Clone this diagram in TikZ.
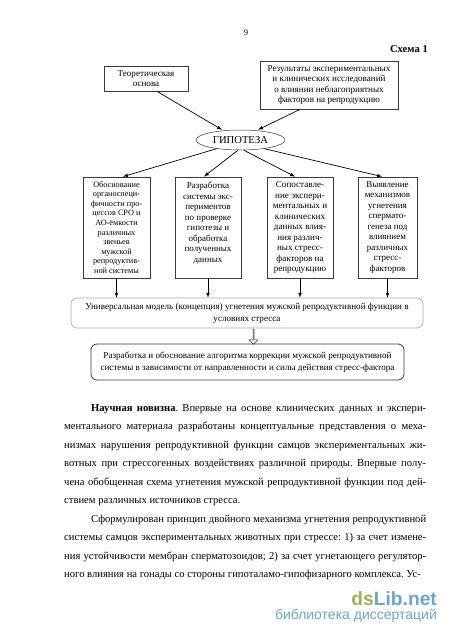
\documentclass[tikz,border=0pt]{standalone}
\usepackage{fontspec}
\setmainfont{Liberation Serif}
\newfontfamily\logofont{Liberation Sans}
\usetikzlibrary{shapes.geometric,shapes.arrows}
\definecolor{boxline}{HTML}{3A3A3A}
\definecolor{modelline}{HTML}{A8A8A8}
\definecolor{logogreen}{HTML}{A3AE5A}
\definecolor{logoblue}{HTML}{6FA3C8}
\tikzset{
  topbox/.style={draw=boxline,line width=0.8pt,inner sep=0,align=center,font=\fontsize{9.1}{10.6}\selectfont},
  colbox/.style={draw=boxline,line width=0.8pt,inner sep=0,align=center,minimum height=101pt},
  roundbox/.style={rounded corners=6pt,inner sep=0,align=center,font=\fontsize{9.1}{12.2}\selectfont},
  bodytext/.style={inner sep=0,anchor=north west,text width=362pt,align=justify,font=\fontsize{10.6}{18.55}\selectfont\frenchspacing},
  link/.style={draw=black,line width=0.7pt,-latex},
}
\begin{document}
\begin{tikzpicture}[x=1pt,y=-1pt]
\useasboundingbox (0,0) rectangle (450,636);
% Page head
\node[inner sep=0,font=\fontsize{8.6}{10}\selectfont] (pagenum) at (246,33) {9};
\node[inner sep=0,anchor=east,font=\fontsize{10.6}{12}\selectfont\bfseries] (schemehead) at (428,49) {Схема 1};
% Top boxes
\node[topbox,minimum width=84pt,minimum height=25pt] (theory) at (146,78.5) {Теоретическая\\основа};
\node[topbox,minimum width=138pt,minimum height=48pt] (results) at (329,85) {Результаты экспериментальных\\и клинических исследований\\о влиянии неблагоприятных\\факторов на репродукцию};
% Hypothesis
\node[ellipse,draw=boxline,line width=0.5pt,inner sep=0,minimum width=89pt,minimum height=20pt,font=\fontsize{10.6}{12}\selectfont] (hyp) at (240.5,140) {ГИПОТЕЗА};
% Columns
\node[colbox,minimum width=67pt,font=\fontsize{8.2}{9.6}\selectfont] (col1) at (116.5,227.5) {Обоснование\\органоспеци-\\фичности про-\\цессов СРО и\\АО-ёмкости\\различных\\звеньев\\мужской\\репродуктив-\\ной системы};
\node[colbox,minimum width=66pt,font=\fontsize{9}{10.5}\selectfont] (col2) at (208,227.5) {Разработка\\системы экс-\\периментов\\по проверке\\гипотезы и\\обработка\\полученных\\данных\\\mbox{}};
\node[colbox,minimum width=66pt,font=\fontsize{9.1}{10.5}\selectfont] (col3) at (300,227.5) {Сопоставле-\\ние экспери-\\ментальных и\\клинических\\данных влия-\\ния различ-\\ных стресс-\\факторов на\\репродукцию};
\node[colbox,minimum width=59pt,font=\fontsize{9}{10.5}\selectfont] (col4) at (387.5,227.5) {Выявление\\механизмов\\угнетения\\спермато-\\генеза под\\влиянием\\различных\\стресс-\\факторов};
% Model and algorithm
\node[roundbox,draw=modelline,line width=0.6pt,minimum width=352pt,minimum height=30pt] (model) at (247,313) {Универсальная модель (концепция) угнетения мужской репродуктивной функции в\\условиях стресса};
\node[roundbox,draw=boxline,line width=0.8pt,minimum width=313pt,minimum height=36pt] (algo) at (247.5,362) {Разработка и обоснование алгоритма коррекции мужской репродуктивной\\системы в зависимости от направленности и силы действия стресс-фактора};
\node[single arrow,draw=boxline,line width=0.5pt,inner sep=0,shape border rotate=270,minimum width=9pt,minimum height=15pt,single arrow head extend=2pt,single arrow head indent=0pt] (modelarrow) at (253.5,336.5) {};
% Arrows to hypothesis
\draw[link] ([xshift=11pt]theory.south) -- ([xshift=-18.5pt]hyp.north);
\draw[link] ([xshift=-29pt]results.south) -- ([xshift=17.5pt]hyp.north);
% Arrows from hypothesis
\draw[link] (hyp.200) -- ([xshift=6.5pt]col1.north);
\draw[link] (hyp.256) -- ([xshift=-4pt]col2.north);
\draw[link] (hyp.-72) -- ([xshift=-5pt]col3.north);
\draw[link] (hyp.-20) -- ([xshift=-5.5pt]col4.north);
% Arrows to model
\foreach \c in {col1,col2,col3,col4}
  \draw[link] (\c.south) -- (\c.south |- model.north);
% Body text
\node[bodytext] (para1) at (64,404) {\hspace*{27pt}\textbf{Научная новизна}. Впервые на основе клинических данных и экспери-\linebreak
ментального материала разработаны концептуальные представления о меха-\linebreak
низмах нарушения репродуктивной функции самцов экспериментальных жи-\linebreak
вотных при стрессогенных воздействиях различной природы. Впервые полу-\linebreak
чена обобщенная схема угнетения мужской репродуктивной функции под дей-\linebreak
ствием различных источников стресса.\par};
\node[bodytext] (para2) at (64,514.5) {\hspace*{27pt}Сформулирован принцип двойного механизма угнетения репродуктивной\linebreak
системы самцов экспериментальных животных при стрессе: 1) за счет измене-\linebreak
ния устойчивости мембран сперматозоидов; 2) за счет угнетающего регулятор-\linebreak
ного влияния на гонады со стороны гипоталамо-гипофизарного комплекса. Ус-\par};
% Logo
\node[inner sep=0,anchor=east,font=\logofont\fontsize{19.2}{20}\selectfont\bfseries] (logomark) at (437,598.5) {\textcolor{logogreen}{ds}\textcolor{logoblue}{Lib.net}};
\node[inner sep=0,anchor=east,text=logoblue,font=\logofont\fontsize{14}{15}\selectfont] (logotext) at (437,616) {библиотека диссертаций};
\end{tikzpicture}
\end{document}
